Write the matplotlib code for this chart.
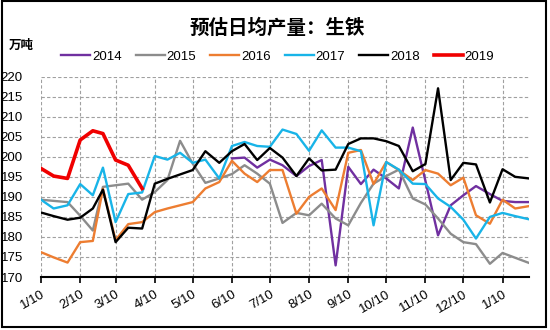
import datetime as dt
import calendar
import numpy as np
import matplotlib
matplotlib.use('Agg')
import matplotlib.pyplot as plt
from matplotlib.patches import Rectangle

plt.rcParams['font.family'] = ['Liberation Sans', 'Noto Sans CJK SC', 'DejaVu Sans']

# 旬度日期: 每月10日, 20日, 月末 (1月到次年1月)
dates = []
for y, m in [(2019, k) for k in range(1, 13)] + [(2020, 1)]:
    for d in (10, 20, calendar.monthrange(y, m)[1]):
        dates.append(dt.date(y, m, d))

nan = np.nan
y2014 = [nan] * 15 + [199.6, 199.8, 197.3, 199.3, 197.9, 195.2, 197.7, 199.2,
                      172.9, 197.5, 193.2, 196.8, 194.6, 192.1, 207.3, 194.0,
                      180.4, 187.9, 190.4, 192.7, 190.7, 189.0, 188.7, 188.7]
y2015 = [189.3, 189.0, 188.7, 185.3, 181.6, 192.5, 192.9, 193.3, 189.3, 191.2,
         194.2, 204.0, 198.3, 193.5, 194.6, 195.7, 197.9, 195.8, 193.3, 183.5,
         186.0, 185.4, 188.3, 184.6, 182.9, 188.5, 193.3, 195.2, 196.8, 189.6,
         188.1, 184.6, 180.8, 178.7, 178.2, 173.3, 176.0, 174.8, 173.5]
y2016 = [176.2, 174.9, 173.6, 178.7, 179.0, 192.0, 179.2, 183.2, 183.7, 186.2,
         187.1, 187.9, 188.7, 192.1, 193.7, 199.0, 195.8, 193.7, 196.7, 196.7,
         185.8, 190.0, 192.1, 186.7, 201.0, 201.7, 193.2, 198.7, 196.7, 194.2,
         196.7, 195.8, 192.9, 194.8, 185.4, 183.3, 189.3, 187.1, 187.7]
y2017 = [189.3, 187.1, 187.9, 193.2, 190.4, 197.3, 183.7, 190.7, 191.1, 200.2,
         199.3, 201.0, 198.5, 199.3, 194.6, 202.7, 203.7, 202.7, 202.5, 206.8,
         205.7, 201.5, 206.6, 202.3, 202.3, 201.4, 182.9, 198.7, 196.8, 193.3,
         193.2, 189.6, 187.5, 184.3, 179.6, 185.0, 186.0, 185.2, 184.4]
y2018 = [186.1, 185.2, 184.3, 184.8, 187.1, 191.8, 178.7, 182.3, 182.1, 193.3,
         194.5, 195.6, 196.7, 201.4, 198.5, 201.4, 203.2, 199.2, 202.2, 199.8,
         195.2, 199.6, 196.6, 196.8, 203.2, 204.6, 204.6, 203.9, 202.7, 196.4,
         198.2, 217.1, 194.2, 198.5, 198.1, 188.6, 196.9, 195.0, 194.6]
y2019 = [197.1, 195.2, 194.6, 204.2, 206.5, 205.8, 199.2, 197.9, 192.1]

years = ['2014', '2015', '2016', '2017', '2018', '2019']
colors = ['#7030A0', '#8C8C8C', '#ED7D31', '#18B4E8', '#000000', '#F00000']
series = [y2014, y2015, y2016, y2017, y2018, y2019]

fig = plt.figure(figsize=(5.5, 3.3), dpi=100)
ax = fig.add_axes([0.0745, 0.1606, 0.8875, 0.607])

for name, c, vals in zip(years, colors, series):
    lw = 2.6 if name == '2019' else 1.7
    ax.plot(dates[:len(vals)], vals, color=c, lw=lw, label=name)

ax.set_ylim(170, 220)
ax.set_yticks(range(170, 221, 5))
ax.set_xlim(dates[0], dates[-1])
ticks = [dt.date(2019, m, 10) for m in range(1, 13)] + [dt.date(2020, 1, 10)]
ax.set_xticks(ticks)
ax.set_xticklabels(['%d/10' % t.month for t in ticks], rotation=30,
                   ha='right', rotation_mode='anchor', fontsize=9.5)
ax.tick_params(axis='y', length=0, labelsize=9.5, pad=13)
ax.tick_params(axis='x', length=4, width=1.2, direction='out', pad=4)

ax.grid(True, color='#A0A0A0', linestyle=(0, (3, 2)), lw=0.8)
ax.set_axisbelow(True)
for s in ['top', 'right', 'left']:
    ax.spines[s].set_visible(False)
ax.spines['bottom'].set_linewidth(1.5)

fig.text(0.505, 0.915, '预估日均产量：生铁', ha='center', va='center',
         fontsize=14, fontweight='bold', family=['Noto Sans CJK SC', 'DejaVu Sans'])
fig.text(0.016, 0.862, '万吨', ha='left', va='center', fontsize=9,
         fontweight='bold', family=['Noto Sans CJK SC', 'DejaVu Sans'])

fig.legend(loc='center', bbox_to_anchor=(0.505, 0.828), ncol=6, frameon=False,
           fontsize=9.5, handlelength=2.2, handletextpad=0.15, columnspacing=1.05)

fig.patches.append(Rectangle((0.0036, 0.009), 0.989, 0.988, fill=False,
                             ec='black', lw=1.5, transform=fig.transFigure))

fig.savefig('out.png', dpi=100)
